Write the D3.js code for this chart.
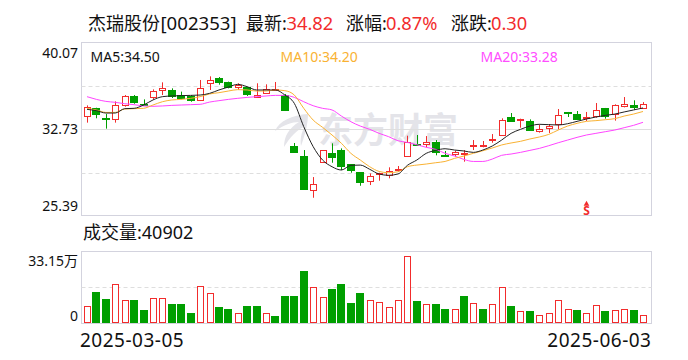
<!DOCTYPE html>
<html>
<head>
<meta charset="utf-8">
<script src="https://cdn.jsdelivr.net/npm/d3@7"></script>
<style>
  html, body { margin: 0; background: #fff; }
  svg { display: block; }
  text { font-family: "Noto Sans", "Noto Sans CJK SC", sans-serif; fill: #111; }
</style>
</head>
<body>
<svg id="chart"></svg>
<script>
const candleOpen = [33.76,34.47,33.64,33.53,34.72,35.49,34.86,35.38,36.0,36.0,35.57,35.52,35.15,36.57,37.05,36.71,36.25,36.25,35.43,35.74,36.03,35.6,31.26,30.41,27.49,29.87,30.67,30.92,29.7,29.02,28.23,28.85,28.82,29.28,30.38,31.46,31.37,31.6,30.52,30.52,30.52,31.29,31.2,31.77,32.2,33.7,33.42,33.39,32.51,32.74,33.08,34.16,33.98,33.59,33.76,34.47,33.98,34.69,34.75,34.52];
const candleClose = [34.55,33.93,33.59,34.72,35.49,34.95,34.81,35.91,36.17,35.52,35.29,35.18,36.17,36.85,36.74,36.28,36.42,35.63,35.6,36.08,36.08,34.35,30.79,27.63,28.0,30.89,30.35,29.59,29.19,28.14,28.68,28.93,29.16,29.33,31.6,31.37,31.57,30.79,30.47,30.72,30.64,31.35,31.32,31.83,33.45,33.39,33.53,32.65,32.68,32.93,33.87,34.1,33.56,33.7,34.3,33.76,34.72,34.84,34.61,34.82];
const candleHigh = [34.72,34.52,33.98,35.06,35.6,35.6,35.23,36.08,36.68,36.17,35.89,35.6,36.88,37.19,37.13,36.74,36.6,36.31,36.6,36.51,36.71,35.69,31.52,30.92,28.62,30.89,31.49,31.06,29.73,29.05,28.93,28.99,29.45,29.56,32.14,32.2,32.11,31.77,30.84,30.86,30.92,31.77,31.69,32.28,33.62,34.07,33.59,33.53,33.08,33.13,34.41,34.16,34.24,34.16,34.92,34.5,34.81,35.43,35.15,35.0];
const candleLow = [33.25,33.62,32.74,33.25,34.61,34.86,34.67,35.23,35.6,35.35,35.23,35.03,35.09,36.03,36.48,36.17,36.03,35.52,35.4,35.69,35.95,34.24,30.79,27.63,26.86,29.87,29.84,29.22,28.99,27.88,27.94,28.31,28.51,29.05,30.38,31.32,31.15,30.47,30.35,30.35,29.93,30.92,31.15,31.54,32.14,33.33,32.82,32.62,32.4,32.37,32.68,33.73,33.47,33.39,33.67,33.59,33.42,34.55,34.33,34.41];

const ma5 = [34.38,34.27,34.07,34.07,34.44,34.47,34.75,35.18,35.46,35.52,35.55,35.57,35.6,35.74,36.03,36.28,36.51,36.31,36.03,36.03,36.03,35.6,34.89,32.91,31.21,30.07,29.5,29.22,29.62,29.64,29.28,28.88,28.77,28.88,29.62,30.07,30.64,30.89,31.03,30.92,30.84,30.72,30.92,31.26,31.77,32.34,32.68,32.96,33.11,33.08,33.05,33.16,33.36,33.56,33.73,33.87,33.98,34.16,34.33,34.5];
const ma10 = [34.47,34.33,34.12,34.12,34.41,34.44,34.47,34.75,35.03,35.18,35.23,35.32,35.46,35.69,35.8,35.94,36.06,36.03,35.94,35.94,36.03,35.97,35.6,34.47,33.47,32.85,32.2,31.49,30.64,30.07,29.5,29.1,28.99,29.07,29.5,29.64,29.73,29.84,29.95,30.21,30.41,30.64,30.86,31.09,31.35,31.52,31.66,31.86,32.03,32.25,32.62,32.96,33.19,33.36,33.42,33.5,33.59,33.81,33.98,34.2];
const ma20 = [35.46,35.23,35.06,34.98,34.86,34.78,34.67,34.64,34.67,34.72,34.75,34.78,34.81,35.0,35.12,35.23,35.32,35.4,35.46,35.52,35.57,35.57,35.4,35.03,34.69,34.47,34.33,33.81,33.33,32.96,32.68,32.34,32.06,31.71,31.57,31.37,31.15,30.98,30.64,30.41,30.12,29.95,29.95,30.15,30.47,30.58,30.72,30.89,31.06,31.29,31.54,31.77,32.0,32.2,32.34,32.48,32.62,32.82,33.02,33.28];

// volume in 万手, red days listed separately because they don't always follow the candle
const volume = [7.87,14.51,11.27,18.06,10.65,10.8,6.17,11.57,11.57,8.95,8.95,4.78,17.13,13.89,7.56,6.64,4.63,8.02,8.02,4.63,3.4,12.65,12.65,24.23,16.67,12.04,15.9,18.21,9.41,14.04,10.65,9.72,7.41,10.65,31.02,10.34,8.8,8.95,6.64,6.48,12.65,9.26,6.64,8.8,16.67,8.02,5.56,5.71,3.7,4.63,10.65,6.48,6.17,4.63,8.33,5.71,6.02,6.48,6.17,4.09];
const volumeRedDays = [0,3,4,7,8,12,13,16,19,24,25,30,31,32,33,34,36,39,41,43,44,46,48,49,50,51,53,54,56,57,59];

const priceTicks = [40.07, 32.73, 25.39];
const volumeMax = 33.15;
const dateLabels = ["2025-03-05", "2025-06-03"];
const markerDay = 53;

const RED = "#f22c2c";
const GREEN = "#009f00";
const FRAME = "#d3d3de";
const GRID = "#dedede";
const BOX = { left: 81.5, right: 651.5 };
const PRICE = { top: 42.5, bottom: 215.5 };
const VOL = { top: 251.5, bottom: 323.5 };

const svg = d3.select("#chart").attr("width", 688).attr("height", 360);

const x = d3.scaleLinear().domain([0, volume.length - 1]).range([87, 643]);
const y = d3.scaleLinear().domain([25.35, 40.07]).range([PRICE.bottom, PRICE.top]);
const yVol = d3.scaleLinear().domain([0, volumeMax]).range([VOL.bottom, VOL.top]);
const px = (v) => Math.round(v) + 0.5;

// title
const titleParts = [
  [88, "杰瑞股份", "#111", 18],
  [160.5, "[002353]", "#111", 18.6],
  [246, "最新:", "#111", 18],
  [286.5, "34.82", RED, 18.3],
  [346, "涨幅:", "#111", 18],
  [386, "0.87%", RED, 18.3],
  [451, "涨跌:", "#111", 18],
  [491, "0.30", RED, 18.3],
];
svg.append("g").selectAll("text").data(titleParts).join("text")
  .attr("x", (d) => d[0])
  .attr("y", 29.5)
  .attr("font-size", (d) => d[3])
  .style("fill", (d) => d[2])
  .text((d) => d[1]);

// watermark
const mark = svg.append("g");
mark.append("path")
  .attr("fill", "#e4e4e9")
  .attr("d", "M308 114C292 115 279 121 275 131C284 125 292 122 299 122C289 128 284 136 284 147C290 137 297 130 305 126C301 133 300 140 301 146C305 135 308 124 308 114Z");
mark.append("text")
  .attr("x", 318).attr("y", 143)
  .attr("font-size", 35).attr("font-weight", 700)
  .style("font-family", '"Noto Sans CJK SC"').style("fill", "#e4e4e9")
  .text("东方财富");

// frames and grid
const drawFrame = (area) => {
  svg.append("rect")
    .attr("x", BOX.left).attr("y", area.top)
    .attr("width", BOX.right - BOX.left).attr("height", area.bottom - area.top)
    .attr("fill", "none").attr("stroke", FRAME);
};
drawFrame(PRICE);
drawFrame(VOL);

const gridLine = (yPos, dashed) => {
  svg.append("line")
    .attr("x1", BOX.left).attr("x2", BOX.right)
    .attr("y1", yPos).attr("y2", yPos)
    .attr("stroke", GRID)
    .attr("stroke-dasharray", dashed ? "4,3" : null);
};
gridLine(86.5, true);
gridLine(129.5, false);
gridLine(173.5, true);
gridLine(287.5, true);

// price axis, end labels pulled inside the frame
const priceAxis = svg.append("g")
  .attr("transform", `translate(${BOX.left - 3.5},0)`)
  .call(d3.axisLeft(y).tickValues(priceTicks).tickSize(0).tickPadding(0).tickFormat(d3.format(".2f")));
priceAxis.select(".domain").remove();
priceAxis.selectAll("text")
  .attr("font-size", 14)
  .style("font-family", '"Noto Sans", sans-serif')
  .attr("dy", (d) => (d === 40.07 ? 14.5 : d === 25.39 ? -4.5 : 5));

// volume axis
svg.append("text").attr("x", 78).attr("y", 265.5).attr("text-anchor", "end").attr("font-size", 14).text(`${volumeMax}万`);
svg.append("text").attr("x", 78).attr("y", 321).attr("text-anchor", "end").attr("font-size", 14).text("0");

// ma legend
const legend = [
  [90.5, "MA5:34.50", "#111"],
  [280.5, "MA10:34.20", "#f9b233"],
  [480.5, "MA20:33.28", "#ff4dff"],
];
svg.append("g").selectAll("text").data(legend).join("text")
  .attr("x", (d) => d[0]).attr("y", 62)
  .attr("font-size", 14)
  .style("fill", (d) => d[2])
  .text((d) => d[1]);

// ma lines
const maLine = d3.line()
  .x((d, i) => x(i))
  .y((d) => y(d))
  .curve(d3.curveMonotoneX);

// candles
const candles = svg.append("g").selectAll("g")
  .data(candleOpen.map((open, i) => ({
    i, open, close: candleClose[i], high: candleHigh[i], low: candleLow[i],
  })))
  .join("g");
const isUp = (d) => d.close >= d.open;
const candleColor = (d) => (isUp(d) ? RED : GREEN);
candles.append("line")
  .attr("x1", (d) => px(x(d.i))).attr("x2", (d) => px(x(d.i)))
  .attr("y1", (d) => y(d.high)).attr("y2", (d) => y(d.low))
  .attr("stroke", candleColor);
candles.append("rect")
  .attr("x", (d) => px(x(d.i)) - (isUp(d) ? 3 : 4))
  .attr("width", (d) => (isUp(d) ? 6 : 7))
  .attr("y", (d) => px(y(Math.max(d.open, d.close))))
  .attr("height", (d) => Math.max(1, Math.round(Math.abs(y(d.open) - y(d.close)))))
  .attr("fill", (d) => (isUp(d) ? "#fff" : GREEN))
  .attr("stroke", candleColor);

[[ma20, "#ff44ff"], [ma10, "#f9b233"], [ma5, "#222"]].forEach(([values, color]) => {
  svg.append("path")
    .attr("d", maLine(values))
    .attr("fill", "none")
    .attr("stroke", color)
    .attr("stroke-width", 1);
});

// volume bars
const isRed = (i) => volumeRedDays.includes(i);
svg.append("g").selectAll("rect").data(volume).join("rect")
  .attr("x", (d, i) => px(x(i)) - (isRed(i) ? 3 : 4))
  .attr("width", (d, i) => (isRed(i) ? 6 : 7))
  .attr("y", (d) => px(yVol(d)))
  .attr("height", (d) => VOL.bottom - 1 - px(yVol(d)))
  .attr("fill", (d, i) => (isRed(i) ? "#fff" : GREEN))
  .attr("stroke", (d, i) => (isRed(i) ? RED : GREEN));

// S marker near the bottom of the price frame
const markerX = px(x(markerDay));
const marker = svg.append("g");
marker.append("path")
  .attr("d", d3.symbol(d3.symbolTriangle, 14)())
  .attr("transform", `translate(${markerX},204)`)
  .attr("fill", RED);
marker.append("text")
  .attr("x", markerX).attr("y", 214.5)
  .attr("text-anchor", "middle").attr("font-size", 12).attr("font-weight", 700)
  .style("fill", RED)
  .text("S");

// labels under the charts
svg.append("text").attr("x", 83).attr("y", 239).attr("font-size", 18).text("成交量:40902");
svg.append("text").attr("x", 80).attr("y", 347).attr("font-size", 19).attr("letter-spacing", 0.5).text(dateLabels[0]);
svg.append("text").attr("x", 651.5).attr("y", 347).attr("text-anchor", "end").attr("font-size", 19).attr("letter-spacing", 0.5).text(dateLabels[1]);
</script>
</body>
</html>
